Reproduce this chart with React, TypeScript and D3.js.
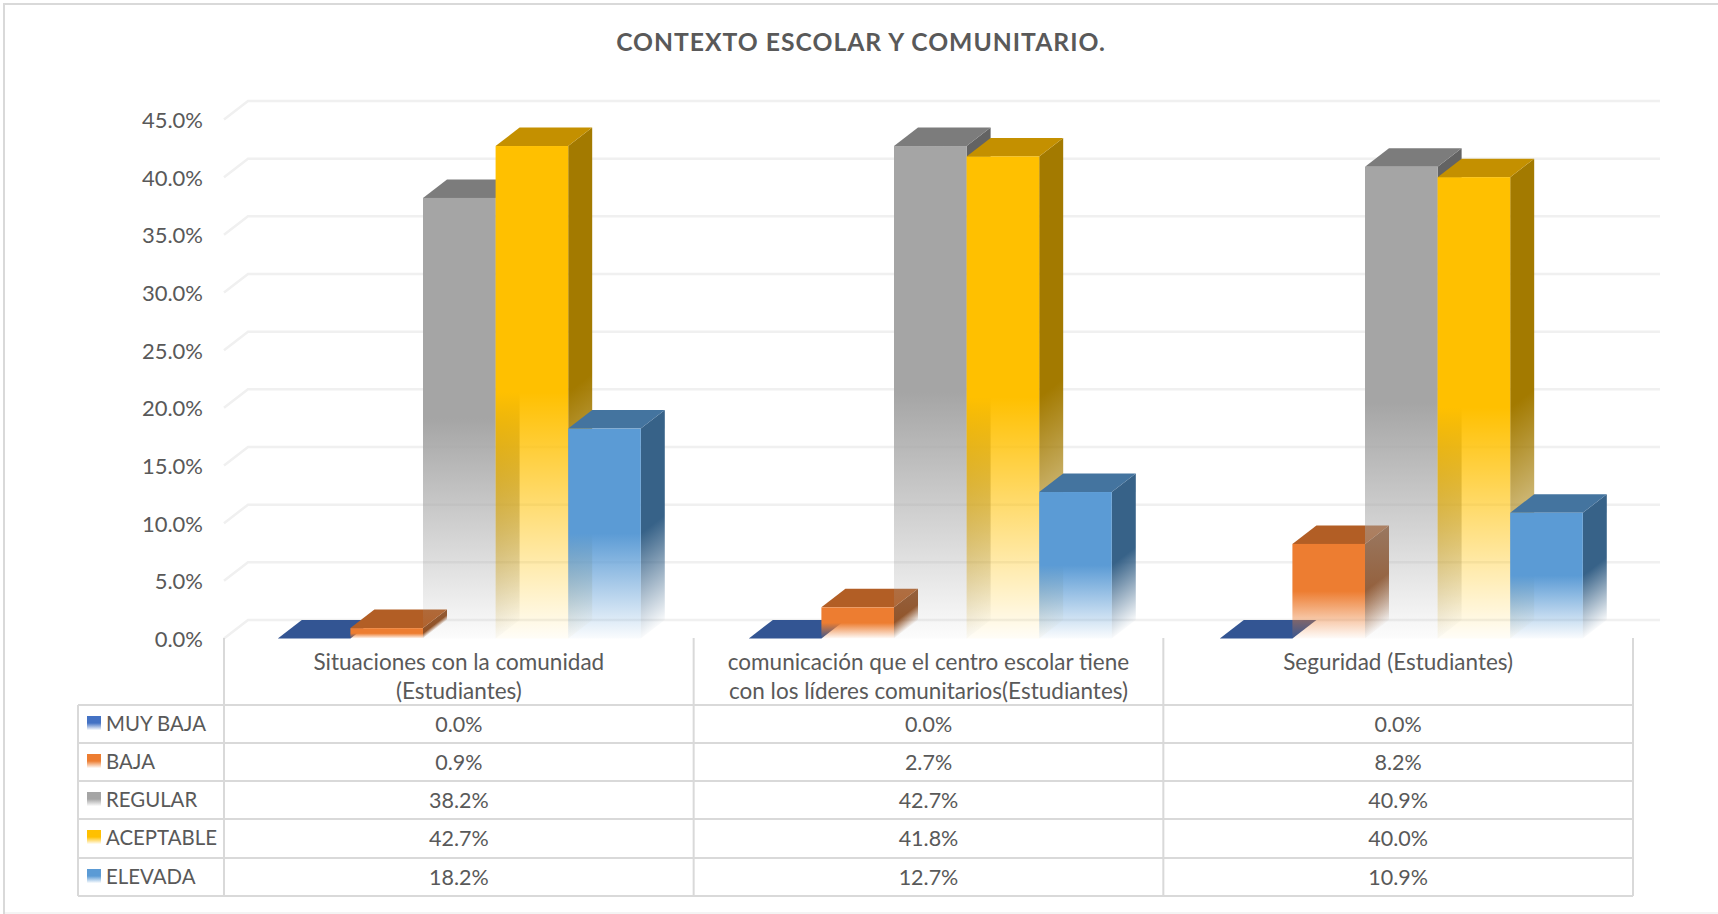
import React, { useEffect, useRef } from 'react';
import * as d3 from 'd3';

const categories = ['Situaciones', 'Comunicacion', 'Seguridad'];
const categoryLabels = [
  ['Situaciones con la comunidad', '(Estudiantes)'],
  ['comunicación que el centro escolar tiene', 'con los líderes comunitarios(Estudiantes)'],
  ['Seguridad (Estudiantes)'],
];
const seriesNames = ['MUY BAJA', 'BAJA', 'REGULAR', 'ACEPTABLE', 'ELEVADA'];
const muyBaja = [0.0, 0.0, 0.0];
const baja = [0.9, 2.7, 8.2];
const regular = [38.2, 42.7, 40.9];
const aceptable = [42.7, 41.8, 40.0];
const elevada = [18.2, 12.7, 10.9];
const seriesValues = [muyBaja, baja, regular, aceptable, elevada];
const frontColors = ['#4472C4', '#ED7D31', '#A5A5A5', '#FFC000', '#5B9BD5'];
const topColors = ['#335593', '#B25E25', '#7C7C7C', '#C49000', '#44749F'];
const sideColors = ['#294677', '#8F4C1E', '#636363', '#A37A00', '#376288'];
const yTicks = [0, 5, 10, 15, 20, 25, 30, 35, 40, 45];

const FONT = 'Lato, "Open Sans", sans-serif';
const TEXT = '#595959';
const LINE = '#D9D9D9';

const App = () => {
  const svgRef = useRef<SVGSVGElement>(null);

  useEffect(() => {
    const svg = d3.select(svgRef.current);
    svg.selectAll('*').remove();

    const depthX = 24;
    const depthY = 18.5;
    const fmt = (d: number) => `${d.toFixed(1)}%`;

    const y = d3.scaleLinear().domain([0, 45]).range([638.5, 119.5]);
    // table columns and bar groups are spaced a little differently in the original
    const xTable = d3.scaleBand().domain(categories).range([224, 1633]);
    const x0 = d3.scaleBand().domain(categories).range([223.8, 1636.8]);
    const x1 = d3.scaleBand().domain(seriesNames).range([0, x0.bandwidth()]).paddingOuter(0.744);

    // gradients
    const defs = svg.append('defs');
    const addStops = (g: any, color: string) => {
      g.append('stop').attr('offset', '50%').attr('stop-color', color).attr('stop-opacity', 1);
      g.append('stop').attr('offset', '100%').attr('stop-color', color).attr('stop-opacity', 0.03);
    };
    seriesNames.forEach((_, i) => {
      const g = defs.append('linearGradient').attr('id', `front${i}`).attr('x1', 0).attr('y1', 0).attr('x2', 0).attr('y2', 1);
      addStops(g, frontColors[i]);
    });

    // picture frame: only top and left edges are dark, the bottom one is faint
    svg.append('rect').attr('width', 1718).attr('height', 914).attr('fill', '#fff');
    svg.append('path').attr('d', 'M3,913L1718,913').attr('stroke', '#F4F4F4').attr('stroke-width', 2);
    svg.append('path').attr('d', 'M4,914L4,4L1718,4').attr('fill', 'none').attr('stroke', LINE).attr('stroke-width', 2);

    // title
    svg.append('text').attr('x', 861).attr('y', 51).attr('text-anchor', 'middle')
      .attr('font-family', FONT).attr('font-size', 24.7).attr('font-weight', 700)
      .attr('letter-spacing', 1).attr('fill', TEXT)
      .text('CONTEXTO ESCOLAR Y COMUNITARIO.');

    // grid
    const grid = svg.append('g').attr('fill', 'none').attr('stroke', '#F0F0F0').attr('stroke-width', 2.5);
    yTicks.forEach(t => {
      const yy = y(t);
      grid.append('path').attr('d', `M224,${yy}L${224 + depthX},${yy - depthY}L1660,${yy - depthY}`);
    });

    // y axis labels
    const axis = svg.append('g').attr('transform', 'translate(203,1)')
      .call(d3.axisLeft(y).tickValues(yTicks).tickFormat(d => fmt(+d)).tickSize(0).tickPadding(0));
    axis.select('.domain').remove();
    axis.selectAll('text').attr('font-family', FONT).attr('font-size', 22).attr('fill', TEXT);

    // bars
    const bars = svg.append('g');
    const edgeLen = Math.hypot(depthX, depthY);
    categories.forEach((cat, c) => {
      seriesNames.forEach((name, s) => {
        const v = seriesValues[s][c];
        const left = x0(cat)! + x1(name)!;
        const w = x1.bandwidth();
        const top = y(v);
        const base = y(0);
        if (v > 0) {
          // side fade runs parallel to the slanted bottom edge
          const h = base - top;
          const nx = depthY / edgeLen;
          const ny = depthX / edgeLen;
          const id = `side${c}-${s}`;
          const g = defs.append('linearGradient').attr('id', id).attr('gradientUnits', 'userSpaceOnUse')
            .attr('x1', left + w).attr('y1', top)
            .attr('x2', left + w + nx * h * ny).attr('y2', top + ny * h * ny);
          addStops(g, sideColors[s]);
          bars.append('path')
            .attr('d', `M${left + w},${top}L${left + w + depthX},${top - depthY}L${left + w + depthX},${base - depthY}L${left + w},${base}Z`)
            .attr('fill', `url(#${id})`);
        }
        bars.append('path')
          .attr('d', `M${left},${top}L${left + depthX},${top - depthY}L${left + w + depthX},${top - depthY}L${left + w},${top}Z`)
          .attr('fill', topColors[s]);
        if (v > 0) {
          bars.append('rect')
            .attr('x', left).attr('y', top).attr('width', w).attr('height', base - top)
            .attr('fill', `url(#front${s})`);
        }
      });
    });

    // data table
    const rowLines = [705, 743, 781, 819, 858, 896];
    const rows = svg.append('g').attr('stroke', LINE).attr('stroke-width', 2);
    rowLines.forEach(r => {
      rows.append('line').attr('x1', 78).attr('x2', 1633).attr('y1', r).attr('y2', r);
    });
    rows.append('line').attr('x1', 78).attr('x2', 78).attr('y1', 705).attr('y2', 896);
    const colLines = [224, ...categories.map(c => xTable(c)! + xTable.bandwidth())];
    colLines.forEach(cx => {
      rows.append('line').attr('x1', cx).attr('x2', cx).attr('y1', 638).attr('y2', 896);
    });

    categories.forEach((cat, c) => {
      const cx = xTable(cat)! + xTable.bandwidth() / 2;
      categoryLabels[c].forEach((line, l) => {
        svg.append('text').attr('x', cx).attr('y', 670 + l * 29).attr('text-anchor', 'middle')
          .attr('font-family', FONT).attr('font-size', 22.5).attr('fill', TEXT).text(line);
      });
      seriesNames.forEach((_, s) => {
        svg.append('text').attr('x', cx).attr('y', rowLines[s] + 27).attr('text-anchor', 'middle')
          .attr('font-family', FONT).attr('font-size', 21.5).attr('fill', TEXT).text(fmt(seriesValues[s][c]));
      });
    });

    seriesNames.forEach((name, s) => {
      svg.append('rect').attr('x', 87).attr('y', rowLines[s] + 11).attr('width', 14).attr('height', 14)
        .attr('fill', `url(#front${s})`);
      svg.append('text').attr('x', 106).attr('y', rowLines[s] + 26)
        .attr('font-family', FONT).attr('font-size', 20.4).attr('fill', TEXT).text(name);
    });
  }, []);

  return <svg ref={svgRef} width={1718} height={914} style={{ position: 'absolute', left: 0, top: 0 }} />;
};

export default App;
